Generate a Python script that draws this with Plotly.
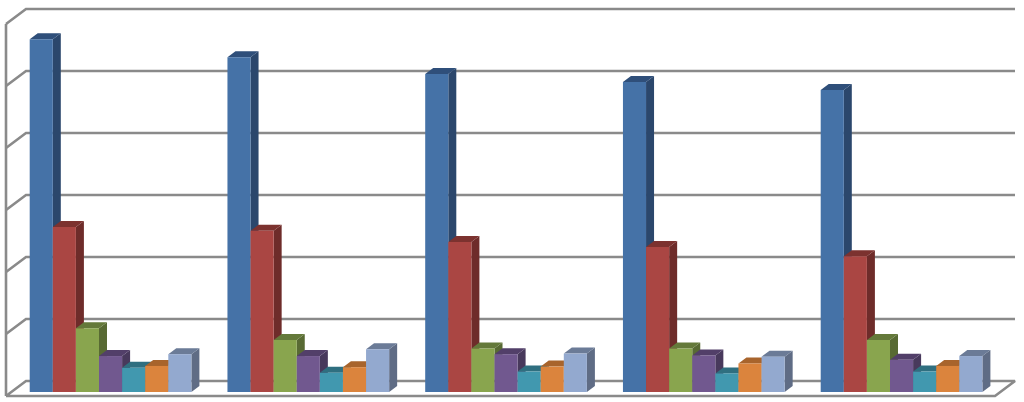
import plotly.graph_objects as go

# Values are in axis units: one back-wall gridline interval = 100
groups = [0, 1, 2, 3, 4]
series_a = [569, 540, 513, 500, 487]
series_b = [266, 260, 242, 234, 219]
series_c = [103, 84, 70, 70, 84]
series_d = [58, 58, 61, 59, 52]
series_e = [39, 31, 33, 30, 33]
series_f = [42, 40, 41, 46, 42]
series_g = [61, 69, 62, 57, 58]
grid_values = [0, 100, 200, 300, 400, 500, 600]

all_series = [series_a, series_b, series_c, series_d, series_e, series_f, series_g]
front = ["#4572A7", "#AA4643", "#89A54E", "#71588F", "#4198AF", "#DB843D", "#93A9CF"]
side = ["#2B476C", "#6E2C2A", "#586A33", "#48395C", "#2A6271", "#8D5528", "#5F6C85"]
top = ["#2F4F7A", "#7C322F", "#64793A", "#523F69", "#2F6F80", "#A8642C", "#6B7B97"]

PX_X = 197.75         # pixels per group
PX_Y = 0.62           # pixels per value unit
X0_PX = 110.55        # pixel of group 0 centre
Y0_PX = 392.0         # pixel of the value 0 at the bars' front
W, H = 1024, 402
BAR_W = 23.1 / PX_X
BAR_DX, BAR_DY = 8 / PX_X, 6 / PX_Y
WALL_DX, WALL_DY = 20 / PX_X, 15 / PX_Y
BACK0 = 11 / PX_Y     # floor at the back wall, above bars' front base
FRONT0 = BACK0 - WALL_DY
LEFT = (6 - X0_PX) / PX_X
BACK_L = LEFT + WALL_DX
BACK_R = (1015 - X0_PX) / PX_X
FRONT_R = BACK_R - WALL_DX
GRID = "#8A8A8A"

xr = [-X0_PX / PX_X, (W - X0_PX) / PX_X]
yr = [(Y0_PX - H) / PX_Y, Y0_PX / PX_Y]

fig = go.Figure()


def line(xs, ys):
    fig.add_trace(go.Scatter(x=xs, y=ys, mode="lines", hoverinfo="skip", showlegend=False,
                             line=dict(color=GRID, width=2.6)))


# walls and floor
for v in grid_values[1:]:
    y = BACK0 + v
    line([LEFT, BACK_L, BACK_R], [FRONT0 + v, y, y])
line([LEFT, LEFT], [FRONT0, FRONT0 + grid_values[-1]])
line([LEFT, BACK_L, BACK_R, FRONT_R, LEFT],
     [FRONT0, BACK0, BACK0, FRONT0, FRONT0])


def poly(xs, ys, color):
    fig.add_trace(go.Scatter(x=xs, y=ys, mode="lines", fill="toself", fillcolor=color,
                             line=dict(width=0, color=color), hoverinfo="skip", showlegend=False))


n = len(all_series)
for s, vals in enumerate(all_series):
    sx, sy, tx, ty = [], [], [], []
    for g, v in zip(groups, vals):
        left = g - n * BAR_W / 2 + s * BAR_W
        right = left + BAR_W
        sx += [right, right + BAR_DX, right + BAR_DX, right, None]
        sy += [0, BAR_DY, v + BAR_DY, v, None]
        tx += [left, left + BAR_DX, right + BAR_DX, right, None]
        ty += [v, v + BAR_DY, v + BAR_DY, v, None]
    poly(sx, sy, side[s])
    poly(tx, ty, top[s])

# front faces on an overlaying pair of axes, so they cover the faces behind
for s, vals in enumerate(all_series):
    fig.add_trace(go.Bar(x=groups, y=vals, marker=dict(color=front[s], line=dict(width=0)),
                         xaxis="x2", yaxis="y2", showlegend=False))

ax = dict(visible=False, fixedrange=True)
fig.update_layout(
    width=W, height=H, margin=dict(l=0, r=0, t=0, b=0),
    paper_bgcolor="white", plot_bgcolor="white", showlegend=False,
    barmode="group", bargap=1 - n * BAR_W, bargroupgap=0,
    xaxis=dict(range=xr, **ax), yaxis=dict(range=yr, **ax),
    xaxis2=dict(range=xr, overlaying="x", **ax),
    yaxis2=dict(range=yr, overlaying="y", **ax),
)
fig.write_html("out.html", config=dict(displayModeBar=False),
               post_script="document.body.style.margin='0';")
